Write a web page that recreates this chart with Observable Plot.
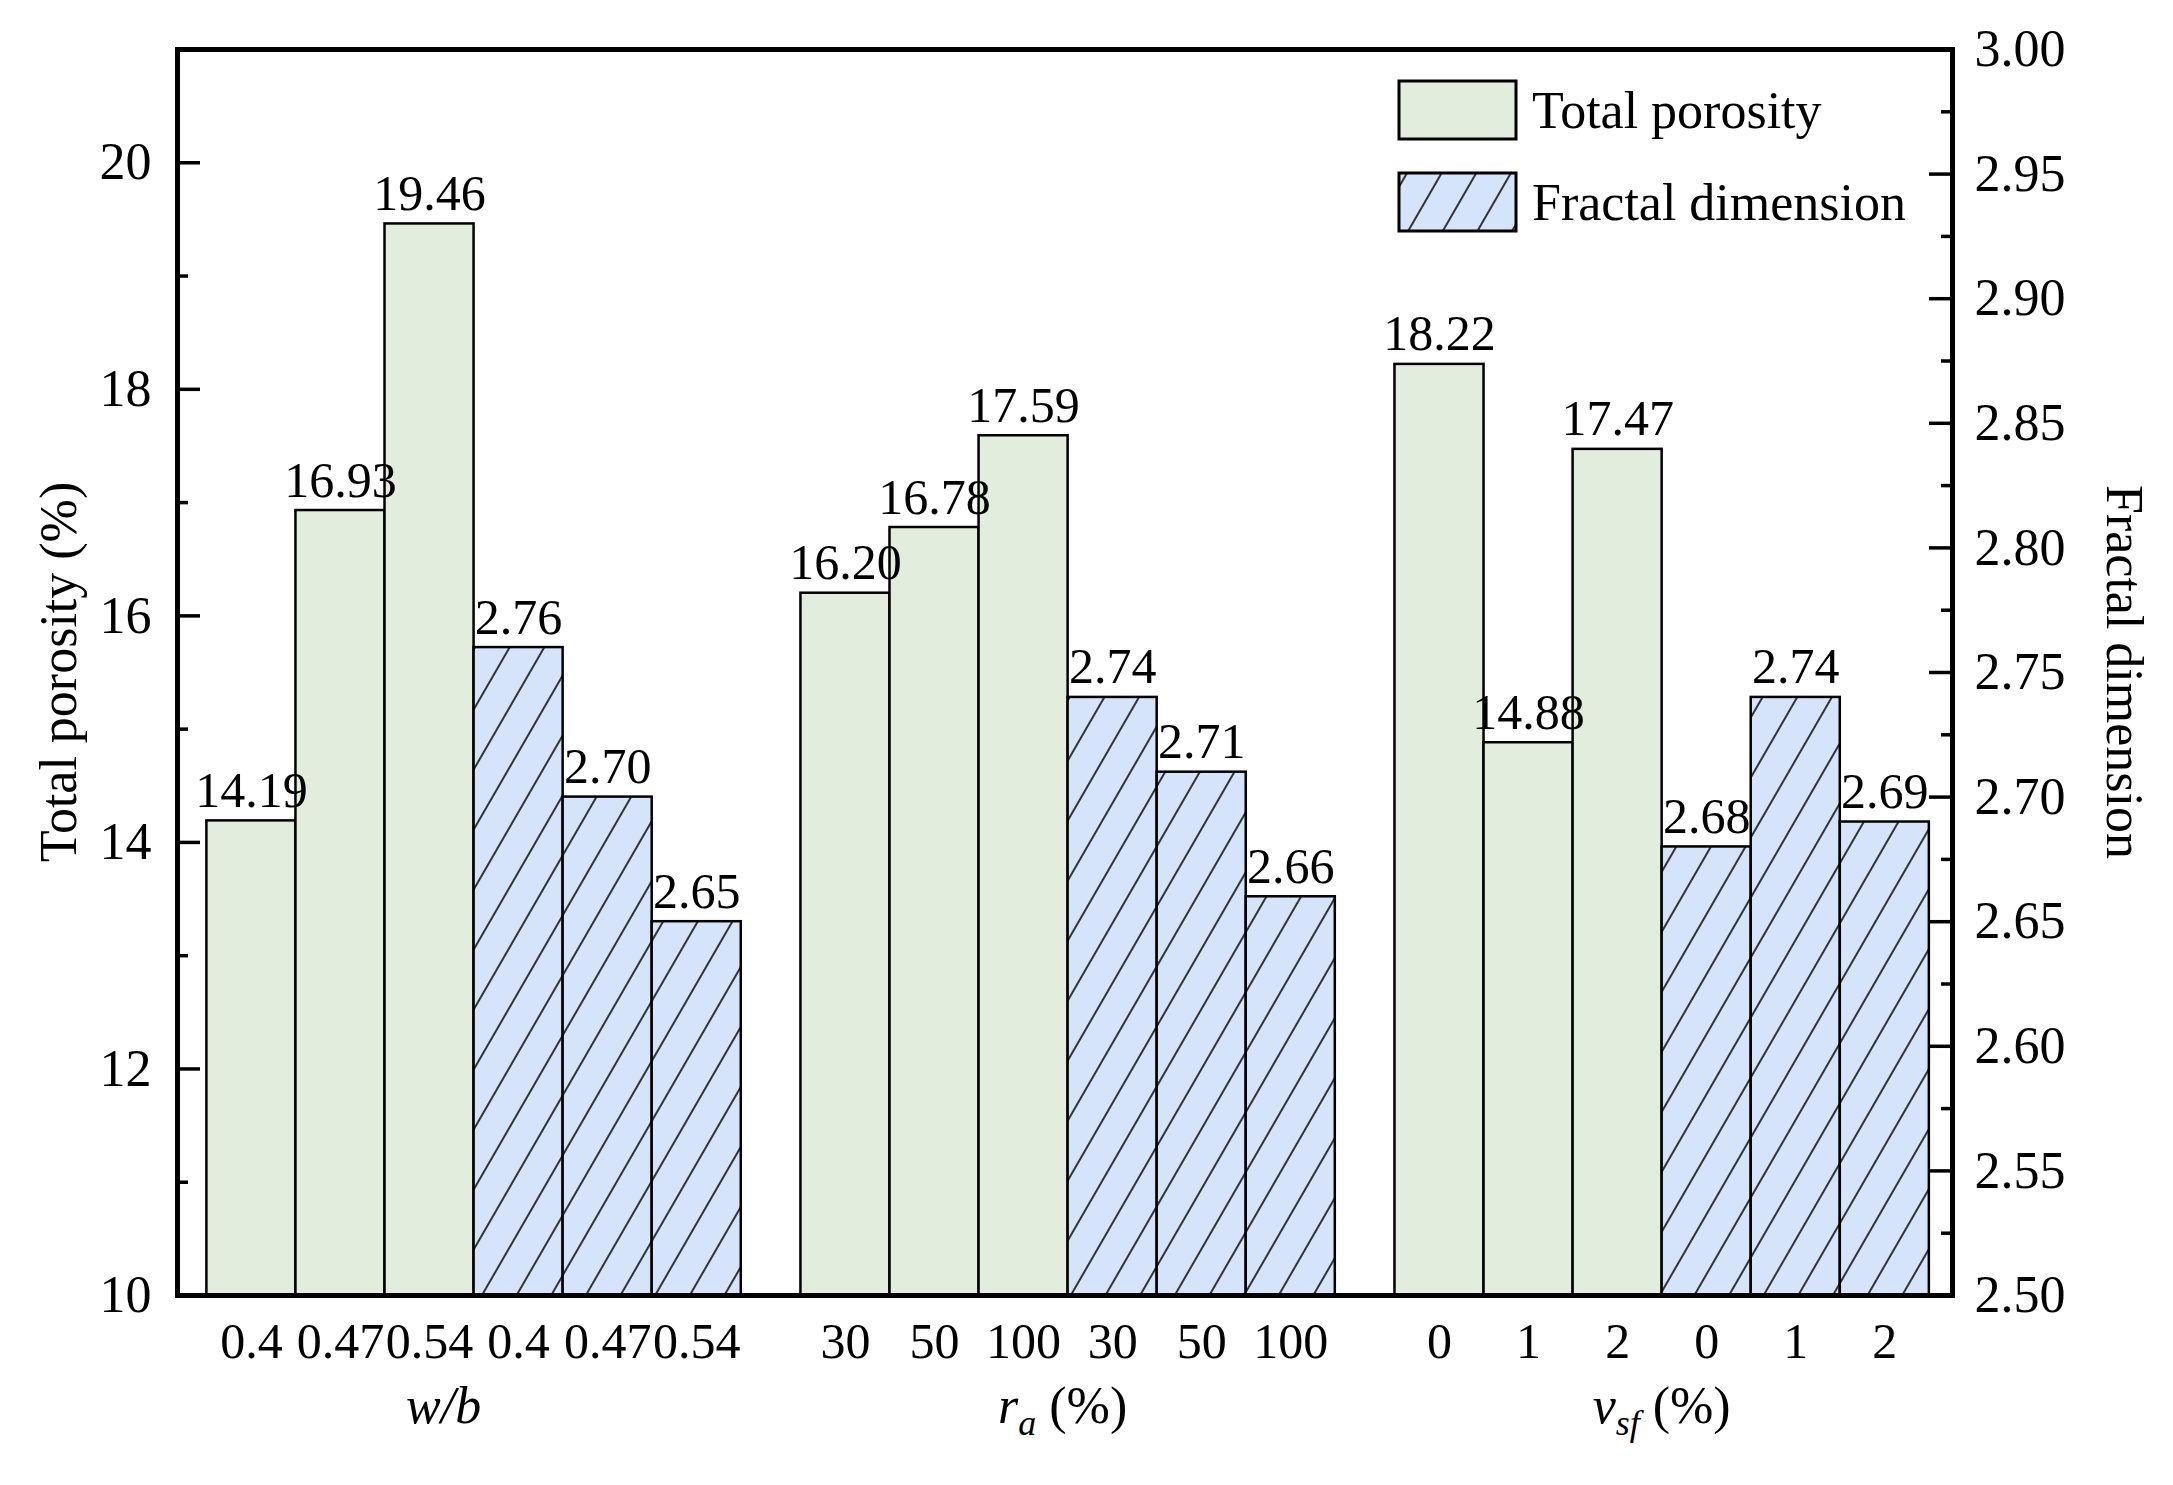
<!DOCTYPE html>
<html>
<head>
<meta charset="utf-8">
<script src="https://cdn.jsdelivr.net/npm/d3@7"></script>
<script src="https://cdn.jsdelivr.net/npm/@observablehq/plot@0.6"></script>
<style>
  html, body { margin: 0; padding: 0; background: white; }
</style>
</head>
<body>
<div id="chart"></div>
<script>
// ---- data ----
const groupNames = ["w/b", "r_a", "v_sf"];
const tickLabels = [["0.4", "0.47", "0.54"], ["30", "50", "100"], ["0", "1", "2"]];
const porosity = [[14.19, 16.93, 19.46], [16.20, 16.78, 17.59], [18.22, 14.88, 17.47]];
const fractal = [[2.76, 2.70, 2.65], [2.74, 2.71, 2.66], [2.68, 2.74, 2.69]];
const leftTicksMajor = [10, 12, 14, 16, 18, 20];
const leftTicksMinor = [11, 13, 15, 17, 19];
const rightTicksMajor = [2.50, 2.55, 2.60, 2.65, 2.70, 2.75, 2.80, 2.85, 2.90, 2.95, 3.00];
const rightTicksMinor = [2.525, 2.575, 2.625, 2.675, 2.725, 2.775, 2.825, 2.875, 2.925, 2.975];

// ---- layout ----
const W = 2173, H = 1485;
const padL = 0.33, gap = 0.67, padR = 0.26;
const xmax = padL + 18 + 2 * gap + padR;
const yMin = 10, yMax = 21, fMin = 2.5, fMax = 3.0;
const toLeft = f => yMin + (f - fMin) * (yMax - yMin) / (fMax - fMin);
const fromLeft = v => fMin + (v - yMin) * (fMax - fMin) / (yMax - yMin);
const green = "#E3EDDD", blue = "#D5E4FA";
const font = "Liberation Serif, Times New Roman, serif";

const rows = [];
groupNames.forEach((g, gi) => {
  for (let k = 0; k < 6; k++) {
    const idx = k % 3;
    const isP = k < 3;
    const x1 = padL + gi * (6 + gap) + k;
    rows.push({
      group: g, series: isP ? "Total porosity" : "Fractal dimension",
      tick: tickLabels[gi][idx],
      value: isP ? porosity[gi][idx] : fractal[gi][idx],
      yv: isP ? porosity[gi][idx] : toLeft(fractal[gi][idx]),
      x1, x2: x1 + 1, xc: x1 + 0.5
    });
  }
});
const pRows = rows.filter(d => d.series === "Total porosity");
const fRows = rows.filter(d => d.series === "Fractal dimension");
const tickLen = 23, minorLen = 11;

const plot = Plot.plot({
  width: W, height: H,
  marginLeft: 177, marginRight: 221, marginTop: 49, marginBottom: 190,
  style: { fontFamily: font, fontSize: "50px", color: "black", background: "white" },
  x: { domain: [0, xmax], axis: null },
  y: { domain: [yMin, yMax] },
  marks: [
    Plot.rectY(pRows, { x1: "x1", x2: "x2", y1: yMin, y2: "yv", fill: green, stroke: "black", strokeWidth: 2.5 }),
    Plot.rectY(fRows, { x1: "x1", x2: "x2", y1: yMin, y2: "yv", fill: "url(#hatch)", stroke: "black", strokeWidth: 2.5 }),
    Plot.text(rows, { x: "xc", y: "yv", text: d => d.value.toFixed(2), dy: -14, lineAnchor: "bottom", fontSize: 50 }),
    Plot.text(rows, { x: "xc", y: yMin, text: "tick", dy: 46, lineAnchor: "middle", fontSize: 50 }),
    // left ticks (inward)
    Plot.ruleY(leftTicksMajor, { y: d => d, x1: 0, x2: 0, insetRight: -tickLen, strokeWidth: 3.5 }),
    Plot.ruleY(leftTicksMinor, { y: d => d, x1: 0, x2: 0, insetRight: -minorLen, strokeWidth: 3.5 }),
    // right ticks (inward)
    Plot.ruleY(rightTicksMajor, { y: d => toLeft(d), x1: xmax, x2: xmax, insetLeft: -tickLen, strokeWidth: 3.5 }),
    Plot.ruleY(rightTicksMinor, { y: d => toLeft(d), x1: xmax, x2: xmax, insetLeft: -minorLen, strokeWidth: 3.5 }),
    Plot.axisY(leftTicksMajor, { anchor: "left", tickSize: 0, tickPadding: 26, fontSize: 52, label: null, tickFormat: d => String(d) }),
    Plot.axisY(rightTicksMajor.map(toLeft), { anchor: "right", tickSize: 0, tickPadding: 22, fontSize: 52, label: null,
      tickFormat: v => fromLeft(v).toFixed(2) }),
    Plot.frame({ stroke: "black", strokeWidth: 5 })
  ]
});

// hatch pattern
const svg = d3.select(plot);
const defs = svg.insert("defs", ":first-child");
const pat = defs.append("pattern").attr("id", "hatch").attr("patternUnits", "userSpaceOnUse")
  .attr("width", 30).attr("height", 30).attr("patternTransform", "rotate(30)");
pat.append("rect").attr("width", 30).attr("height", 30).attr("fill", blue);
pat.append("line").attr("x1", 15).attr("y1", -1).attr("x2", 15).attr("y2", 31)
  .attr("stroke", "#333").attr("stroke-width", 2);

const xs = plot.scale("x"), ys = plot.scale("y");

// group labels
const gl = svg.append("g").attr("font-family", font).attr("font-size", 52).attr("text-anchor", "middle");
const gCenter = gi => xs.apply(padL + gi * (6 + gap) + 3);
const baseY = ys.apply(yMin) + 128;
{
  const t = gl.append("text").attr("x", gCenter(0) - 30).attr("y", baseY);
  t.append("tspan").attr("font-style", "italic").text("w/b");
}
{
  const t = gl.append("text").attr("x", gCenter(1) - 5).attr("y", baseY);
  t.append("tspan").attr("font-style", "italic").text("r");
  t.append("tspan").attr("font-style", "italic").attr("font-size", 36).attr("dy", 12).text("a");
  t.append("tspan").attr("dy", -12).text(" (%)");
}
{
  const t = gl.append("text").attr("x", gCenter(2)).attr("y", baseY);
  t.append("tspan").attr("font-style", "italic").text("v");
  t.append("tspan").attr("font-style", "italic").attr("font-size", 36).attr("dy", 12).text("sf");
  t.append("tspan").attr("dy", -12).text(" (%)");
}

// axis titles
const yMid = (ys.apply(yMin) + ys.apply(yMax)) / 2;
svg.append("text").attr("font-family", font).attr("font-size", 52).attr("text-anchor", "middle")
  .attr("transform", `translate(58,${yMid}) rotate(-90)`).attr("dominant-baseline", "central")
  .text("Total porosity (%)");
svg.append("text").attr("font-family", font).attr("font-size", 52).attr("text-anchor", "middle")
  .attr("transform", `translate(2124,${yMid}) rotate(90)`).attr("dominant-baseline", "central")
  .text("Fractal dimension");

// legend
const series = [{ name: "Total porosity", fill: green }, { name: "Fractal dimension", fill: "url(#hatch)" }];
const lg = svg.append("g").attr("font-family", font).attr("font-size", 52).attr("text-anchor", "start");
series.forEach((s, i) => {
  const y0 = 81 + i * 92;
  lg.append("rect").attr("x", 1399).attr("y", y0).attr("width", 117).attr("height", 58)
    .attr("fill", s.fill).attr("stroke", "black").attr("stroke-width", 3);
  lg.append("text").attr("x", 1532).attr("y", y0 + 29).attr("dominant-baseline", "central").text(s.name);
});

document.getElementById("chart").appendChild(plot);
</script>
</body>
</html>
